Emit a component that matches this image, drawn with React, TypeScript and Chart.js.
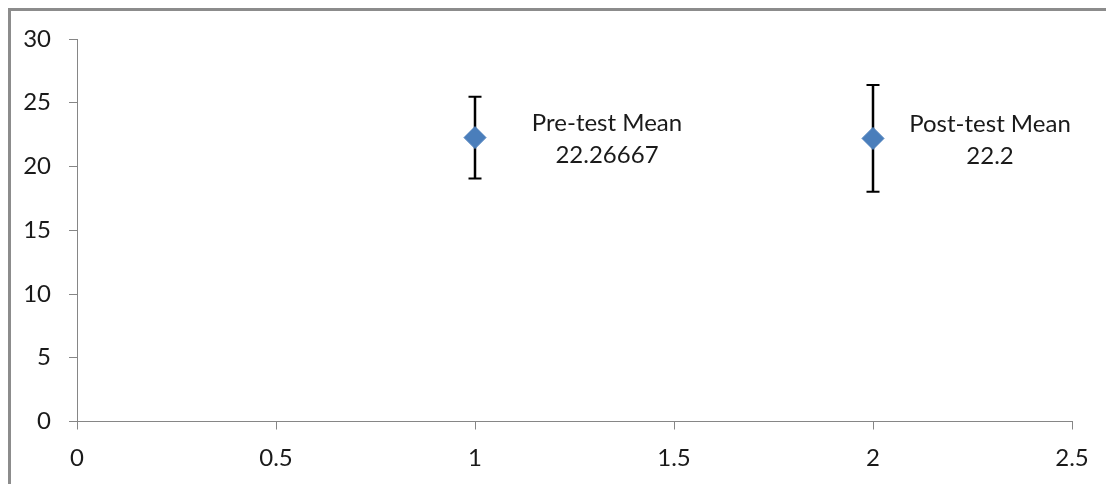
import React, { useEffect, useRef } from "react";
import { Chart, registerables } from "chart.js";

Chart.register(...registerables);

const xValues = [1, 2];
const means = [22.26667, 22.2];
const errors = [3.2, 4.19];
const labelNames = ["Pre-test Mean", "Post-test Mean"];
const labelValues = ["22.26667", "22.2"];
const xTickLabels: Record<string, string> = { "0": "0", "0.5": "0.5", "1": "1", "1.5": "1.5", "2": "2", "2.5": "2.5" };
const yTickLabels = ["0", "5", "10", "15", "20", "25", "30"];

const FONT = "Lato, 'Open Sans', sans-serif";
const LABEL_OFFSETS = [132, 117];

const errorBarPlugin = {
  id: "errorBars",
  beforeDatasetsDraw(chart: any) {
    const { ctx, scales } = chart;
    const xs = scales.x, ys = scales.y;
    ctx.save();
    ctx.strokeStyle = "#000";
    ctx.lineCap = "butt";
    xValues.forEach((xv, i) => {
      const px = xs.getPixelForValue(xv);
      const top = ys.getPixelForValue(means[i] + errors[i]);
      const bot = ys.getPixelForValue(means[i] - errors[i]);
      ctx.lineWidth = 2.5;
      ctx.beginPath();
      ctx.moveTo(px, top);
      ctx.lineTo(px, bot);
      ctx.stroke();
      ctx.lineWidth = 2;
      ctx.beginPath();
      ctx.moveTo(px - 6.5, top);
      ctx.lineTo(px + 6.5, top);
      ctx.moveTo(px - 6.5, bot);
      ctx.lineTo(px + 6.5, bot);
      ctx.stroke();
    });
    ctx.restore();
  },
  afterDatasetsDraw(chart: any) {
    const { ctx, scales } = chart;
    const xs = scales.x, ys = scales.y;
    ctx.save();
    ctx.font = `24px ${FONT}`;
    ctx.fillStyle = "#1a1a1a";
    ctx.textAlign = "center";
    ctx.textBaseline = "middle";
    xValues.forEach((xv, i) => {
      const px = xs.getPixelForValue(xv) + LABEL_OFFSETS[i];
      const py = ys.getPixelForValue(means[i]) + 2;
      ctx.fillText(labelNames[i], px, py - 16);
      ctx.fillText(labelValues[i], px, py + 16);
    });
    ctx.restore();
  },
};

export default function App() {
  const ref = useRef<HTMLCanvasElement>(null);
  useEffect(() => {
    if (!ref.current) return;
    const chart = new Chart(ref.current, {
      type: "scatter",
      data: {
        datasets: [
          {
            data: xValues.map((x, i) => ({ x, y: means[i] })),
            pointStyle: "rectRot",
            pointRadius: 11,
            pointHoverRadius: 11,
            backgroundColor: "#4A7EBB",
            borderColor: "#4A7EBB",
            borderWidth: 1,
          },
        ],
      },
      options: {
        responsive: false,
        animation: false,
        layout: { padding: { left: 0, right: 34, top: 39, bottom: 0 } },
        plugins: { legend: { display: false }, tooltip: { enabled: false } },
        scales: {
          x: {
            type: "linear",
            min: 0,
            max: 2.5,
            ticks: {
              stepSize: 0.5,
              font: { family: FONT, size: 24 },
              color: "#1a1a1a",
              padding: 14,
              maxRotation: 0,
              callback: (v: any) => xTickLabels[String(v)] ?? "",
            },
            grid: { drawOnChartArea: false, drawTicks: true, tickLength: 8, color: "#868686" },
            border: { display: true, color: "#868686", width: 1 },
            afterFit: (s: any) => { s.height = 62.5; },
          },
          y: {
            type: "linear",
            min: 0,
            max: 30,
            ticks: {
              stepSize: 5,
              font: { family: FONT, size: 24 },
              color: "#1a1a1a",
              padding: 18,
              callback: (v: any) => yTickLabels[Math.round(Number(v) / 5)] ?? "",
            },
            grid: { drawOnChartArea: false, drawTicks: true, tickLength: 8, color: "#868686" },
            border: { display: true, color: "#868686", width: 1 },
            afterFit: (s: any) => { s.width = 77; },
          },
        },
      },
      plugins: [errorBarPlugin],
    });
    return () => chart.destroy();
  }, []);
  return (
    <div style={{ position: "fixed", left: 0, top: 0, width: 1106, height: 484, overflow: "hidden", background: "#fff" }}>
      <div style={{ position: "absolute", left: 8, top: 8, width: 1300, height: 700, border: "3px solid #8c8c8c", boxSizing: "border-box" }} />
      <canvas ref={ref} width={1106} height={484} style={{ position: "absolute", left: 0, top: 0, width: 1106, height: 484 }} />
    </div>
  );
}
